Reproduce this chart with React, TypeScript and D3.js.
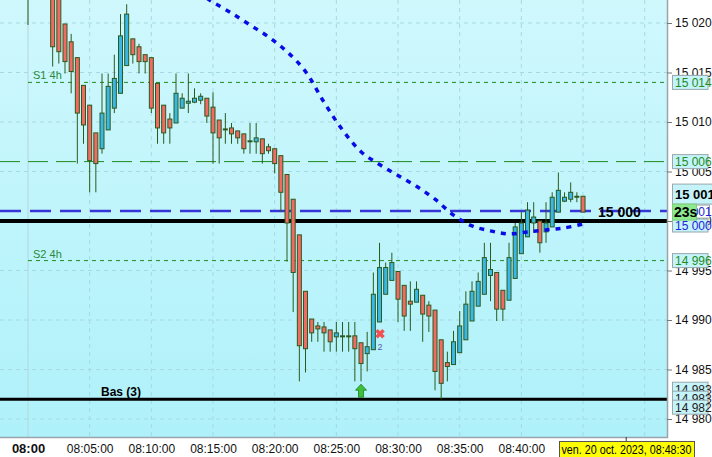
import React, { useEffect, useRef } from 'react'
import * as d3 from 'd3'

// 30 second candles starting 08:00:00
const opens = [
  15024.5, 15023.5, 15025.0, 15026.5, 15025.0, 15024.0, 15019.9, 15018.1, 15016.5, 15013.7,
  15011.7, 15008.9, 15007.3, 15009.2, 15011.4, 15012.9, 15015.7, 15018.4, 15017.6, 15016.8,
  15016.5, 15013.9, 15011.7, 15010.3, 15009.9, 15011.4, 15011.9, 15012.0, 15012.2, 15012.4,
  15011.5, 15010.2, 15009.3, 15009.4, 15009.1, 15008.8, 15008.1, 15008.0, 15008.3, 15007.5,
  15007.3, 15006.6, 15004.7, 15002.2, 14998.6, 14992.9, 14990.1, 14989.4, 14989.3, 14989.0,
  14988.3, 14988.4, 14988.4, 14988.4, 14987.7, 14986.6, 14987.0, 14989.8, 14992.6, 14994.0,
  14994.9, 14993.5, 14991.9, 14991.8, 14992.5, 14991.5, 14991.0, 14988.0, 14985.7, 14985.5,
  14986.7, 14988.0, 14989.9, 14991.4, 14992.6, 14994.5, 14994.8, 14993.0, 14992.0, 14994.2,
  14996.7, 14998.4, 14999.8, 15000.0, 14998.9, 14999.4, 15000.9, 15002.0, 15002.2, 15002.5,
  15002.5,
]
const closes = [
  15023.0, 15025.0, 15026.5, 15025.0, 15017.6, 15017.1, 15016.1, 15015.1, 15010.9, 15009.7,
  15006.1, 15005.8, 15010.9, 15013.6, 15014.4, 15018.7, 15020.9, 15016.8, 15016.1, 15016.1,
  15011.4, 15009.4, 15008.9, 15009.4, 15012.9, 15012.4, 15012.1, 15012.4, 15012.6, 15010.6,
  15008.9, 15008.4, 15009.2, 15008.8, 15008.4, 15007.3, 15008.1, 15008.4, 15006.8, 15007.1,
  15005.8, 15002.9, 14999.8, 14994.8, 14987.4, 14987.1, 14988.7, 14989.1, 14988.7, 14987.8,
  14988.7, 14988.4, 14988.4, 14987.1, 14985.6, 14987.3, 14992.6, 14995.3, 14995.3, 14995.8,
  14992.1, 14990.4, 14991.6, 14993.1, 14990.6, 14990.4, 14984.8, 14983.6, 14985.3, 14987.8,
  14989.4, 14991.6, 14992.9, 14993.9, 14996.3, 14995.1, 14991.1, 14991.1, 14996.3, 14999.4,
  14999.8, 15001.1, 15000.4, 14997.8, 14999.8, 15002.4, 15003.1, 15002.4, 15002.9, 15002.5,
  15000.9,
]
const highs = [
  15025.5, 15026.0, 15027.0, 15027.5, 15025.5, 15024.5, 15019.9, 15018.9, 15016.5, 15013.7,
  15011.7, 15008.9, 15014.9, 15014.9, 15016.8, 15020.9, 15021.9, 15018.4, 15017.9, 15016.8,
  15016.5, 15013.9, 15011.7, 15010.9, 15014.9, 15012.9, 15014.9, 15013.4, 15012.9, 15012.4,
  15013.0, 15010.2, 15010.9, 15009.9, 15009.1, 15008.8, 15009.9, 15009.9, 15008.3, 15007.8,
  15007.3, 15006.6, 15004.7, 15002.2, 14998.6, 14992.9, 14990.1, 14989.8, 14989.8, 14989.0,
  14989.8, 14989.8, 14989.8, 14989.8, 14987.7, 14988.8, 14994.8, 14997.8, 14995.8, 14996.8,
  14994.9, 14993.5, 14993.9, 14993.9, 14992.5, 14991.9, 14991.0, 14988.0, 14986.8, 14988.9,
  14990.9, 14992.9, 14993.9, 14994.8, 14997.8, 14997.8, 14994.8, 14993.0, 14997.8, 14999.8,
  15000.9, 15001.9, 15001.9, 15000.0, 15001.9, 15002.9, 15004.9, 15002.9, 15003.9, 15002.9,
  15002.5,
]
const lows = [
  15019.8, 15022.8, 15024.0, 15024.5, 15015.6, 15015.9, 15014.9, 15012.9, 15005.8, 15007.8,
  15002.9, 15002.9, 15006.8, 15009.2, 15010.9, 15012.9, 15015.7, 15015.9, 15014.9, 15014.9,
  15010.9, 15007.8, 15007.8, 15007.8, 15009.9, 15011.4, 15010.9, 15011.9, 15011.8, 15009.9,
  15005.8, 15005.8, 15007.8, 15007.8, 15007.8, 15006.8, 15006.8, 15006.8, 15005.8, 15006.8,
  15004.8, 15000.9, 14995.9, 14990.8, 14983.8, 14984.7, 14987.8, 14987.8, 14986.8, 14986.8,
  14986.8, 14986.8, 14986.8, 14983.8, 14983.8, 14984.8, 14987.0, 14989.8, 14992.6, 14994.0,
  14989.8, 14988.9, 14988.9, 14991.8, 14987.8, 14988.8, 14982.9, 14982.0, 14983.8, 14985.5,
  14986.7, 14988.0, 14989.9, 14991.4, 14992.6, 14991.9, 14989.9, 14989.9, 14992.0, 14994.2,
  14996.7, 14998.4, 14998.8, 14996.8, 14997.8, 14999.4, 15000.9, 15001.9, 15001.9, 15001.9,
  15000.9,
]

// moving average (candle index, price)
const maIndex = [29, 30, 33, 36, 39, 42, 45, 48, 51, 54, 57, 60, 63, 66, 69, 72, 75, 78, 81, 84, 87, 90]
const maValues = [
  15022.5, 15022.1, 15021.0, 15019.8, 15018.6, 15017.1, 15015.1, 15012.0, 15009.2, 15007.0,
  15005.7, 15004.6, 15003.5, 15002.2, 15000.6, 14999.5, 14999.0, 14998.7, 14998.9, 14999.1,
  14999.3, 14999.7,
]

const yTicks = [14980, 14985, 14990, 14995, 15000, 15005, 15010, 15015, 15020]
const xTicks = ['08:00', '08:05', '08:10', '08:15', '08:20', '08:25', '08:30', '08:35', '08:40', '08:45', '08:50']
const xLabels = ['08:00', '08:05:00', '08:10:00', '08:15:00', '08:20:00', '08:25:00', '08:30:00', '08:35:00', '08:40:00', '', '']

const levelS1 = 15014
const levelR = 15006
const levelLast = 15001
const levelRound = 15000
const levelS2 = 14996
const levelLow = 14982
const buyIndex = 54
const sellIndex = 57
const sellPrice = 14988.6

const W = 712
const H = 457
const plotR = 667
const plotB = 437
const font = '"Liberation Sans", Arial, sans-serif'

const day = (hm: string) => {
  const [h, m] = hm.split(':').map(Number)
  return new Date(2023, 9, 20, h, m, 0)
}
const fmt = (v: number) => {
  const r = Math.round(v)
  return `${Math.floor(r / 1000)} ${String(r % 1000).padStart(3, '0')}`
}

export default function App() {
  const ref = useRef<SVGSVGElement>(null)

  useEffect(() => {
    document.body.style.margin = '0'
    const svg = d3.select(ref.current)
    svg.selectAll('*').remove()

    const t0 = day('08:00')
    const tNow = new Date(2023, 9, 20, 8, 48, 30)
    const x = d3.scaleTime().domain([t0, tNow]).range([28, 626.2])
    const y = d3.scaleLinear().domain([14980, 15020]).range([419, 23])
    const cx = (i: number) => x(new Date(t0.getTime() + i * 30000))

    const defs = svg.append('defs')
    const grad = defs.append('linearGradient').attr('id', 'bg').attr('x1', 0).attr('y1', 0).attr('x2', 0).attr('y2', 1)
    grad.append('stop').attr('offset', '0%').attr('stop-color', '#cff8fd')
    grad.append('stop').attr('offset', '100%').attr('stop-color', '#aff1fa')
    defs.append('clipPath').attr('id', 'plot').append('rect').attr('width', plotR).attr('height', plotB)

    svg.append('rect').attr('width', W).attr('height', H).attr('fill', '#fff')
    svg.append('rect').attr('width', plotR).attr('height', plotB).attr('fill', 'url(#bg)')

    const g = svg.append('g').attr('clip-path', 'url(#plot)')

    // grid
    g.selectAll('.hg').data(yTicks).enter().append('line')
      .attr('x1', 0).attr('x2', plotR).attr('y1', (d) => y(d)).attr('y2', (d) => y(d))
      .attr('stroke', '#a6d9e2').attr('stroke-dasharray', '4,4')
    g.selectAll('.vg').data(xTicks).enter().append('line')
      .attr('x1', (d) => x(day(d))).attr('x2', (d) => x(day(d))).attr('y1', 0).attr('y2', plotB)
      .attr('stroke', (d, i) => (i === 0 ? '#b6d4dc' : '#a6d9e2'))
      .attr('stroke-dasharray', (d, i) => (i === 0 ? null : '4,4'))

    const hline = (v: number, x0: number, color: string, w: number, dash: string | null) =>
      g.append('line').attr('x1', x0).attr('x2', plotR).attr('y1', y(v)).attr('y2', y(v))
        .attr('stroke', color).attr('stroke-width', w).attr('stroke-dasharray', dash)

    hline(levelS1, 28, '#1f8a1f', 1, '4,4')
    hline(levelS2, 28, '#1f8a1f', 1, '4,4')
    hline(levelR, 0, '#1f8a1f', 1, '20,8')
    hline(levelLast, 0, '#3535d8', 2.5, '21,9')
    hline(levelRound, 0, '#000', 4, null)
    hline(levelLow, 0, '#000', 3, null)

    const lbl = (t: string, xx: number, yy: number, color: string, size: number, bold = false) =>
      g.append('text').attr('x', xx).attr('y', yy).attr('fill', color).attr('font-size', size)
        .attr('font-family', font).attr('font-weight', bold ? 'bold' : 'normal').text(t)

    lbl('S1 4h', 33, y(levelS1) - 3, '#2a8a3a', 11)
    lbl('S2 4h', 33, y(levelS2) - 3, '#2a8a3a', 11)
    lbl('Bas (3)', 101, y(levelLow) - 3, '#000', 12, true)

    // candles
    const idx = d3.range(opens.length)
    const cg = g.selectAll('.c').data(idx).enter().append('g')
    cg.append('line')
      .attr('x1', (i) => cx(i)).attr('x2', (i) => cx(i))
      .attr('y1', (i) => y(highs[i])).attr('y2', (i) => y(lows[i]))
      .attr('stroke', '#2c5a1c').attr('stroke-width', 1)
    cg.append('rect')
      .attr('x', (i) => cx(i) - 2)
      .attr('width', 4)
      .attr('y', (i) => y(Math.max(opens[i], closes[i])))
      .attr('height', (i) => Math.max(1, Math.abs(y(opens[i]) - y(closes[i]))))
      .attr('fill', (i) => (closes[i] >= opens[i] ? '#38b8e6' : '#f26a64'))
      .attr('stroke', '#2c5a1c').attr('stroke-width', 1)

    // moving average
    const line = d3.line<number>().x((d, k) => cx(maIndex[k])).y((d) => y(d)).curve(d3.curveCatmullRom)
    g.append('path').attr('d', line(maValues)).attr('fill', 'none')
      .attr('stroke', '#0a0ae6').attr('stroke-width', 3.5).attr('stroke-dasharray', '5,6')

    lbl('15 000', 598, y(levelRound) - 4, '#000', 14, true)

    // markers
    const bx = cx(buyIndex)
    const by = y(levelLow) - 2
    g.append('path')
      .attr('d', `M${bx},${by - 13} L${bx + 5.5},${by - 7} L${bx + 2.5},${by - 7} L${bx + 2.5},${by} L${bx - 2.5},${by} L${bx - 2.5},${by - 7} L${bx - 5.5},${by - 7} Z`)
      .attr('fill', '#3cc03c').attr('stroke', '#1e7a1e').attr('stroke-width', 0.8)
    const sx = cx(sellIndex) + 0.5
    const sy = y(sellPrice)
    g.append('path')
      .attr('d', `M${sx - 3.5},${sy - 3.5} L${sx + 3.5},${sy + 3.5} M${sx + 3.5},${sy - 3.5} L${sx - 3.5},${sy + 3.5}`)
      .attr('stroke', '#f05050').attr('stroke-width', 3.5)
    lbl('2', sx - 2.5, sy + 16, '#5a5aa0', 9)

    // border
    svg.append('path').attr('d', `M0,${plotB + 0.5} H${plotR + 0.5} V0`).attr('fill', 'none')
      .attr('stroke', '#9aa4ac').attr('stroke-width', 1.5)

    // right axis
    const ya = svg.append('g').attr('transform', `translate(${plotR},0)`)
      .call(d3.axisRight(y).tickValues(yTicks).tickFormat((d) => fmt(d as number)).tickSize(5).tickPadding(3))
    ya.select('.domain').remove()
    ya.selectAll('text').attr('font-size', 12).attr('font-family', font).attr('fill', '#111')
    ya.selectAll('line').attr('stroke', '#777')

    // bottom axis
    const xa = svg.append('g').attr('transform', `translate(0,${plotB})`)
      .call(d3.axisBottom(x).tickValues(xTicks.map(day)).tickFormat((d, i) => xLabels[i]).tickSize(0).tickPadding(7))
    xa.select('.domain').remove()
    xa.selectAll('text').attr('font-family', font).attr('fill', '#111')
      .attr('font-weight', (d, i) => (i === 0 ? 'bold' : 'normal'))
      .attr('font-size', (d, i) => (i === 0 ? 13 : 12))
    svg.append('line').attr('x1', x(tNow)).attr('x2', x(tNow)).attr('y1', plotB).attr('y2', plotB + 5).attr('stroke', '#333')

    // price tags on the axis
    const tag = (yy: number, h: number, w: number, t: string, color: string, fill: string, size: number, bold = false) => {
      svg.append('rect').attr('x', 672.5).attr('y', yy).attr('width', w).attr('height', h)
        .attr('fill', fill).attr('stroke', '#9aa8ae').attr('stroke-width', 1)
      svg.append('text').attr('x', 675).attr('y', yy + h / 2 + size * 0.36).attr('fill', color)
        .attr('font-size', size).attr('font-family', font).attr('font-weight', bold ? 'bold' : 'normal').text(t)
    }
    tag(y(levelS1) - 7, 14, 35.5, fmt(levelS1), '#1e8c1e', '#c4f3f9', 12)
    tag(y(levelR) - 7, 14, 35.5, fmt(levelR), '#1e8c1e', '#c4f3f9', 12)
    tag(y(levelS2) - 7, 14, 35.5, fmt(levelS2), '#1e8c1e', '#c4f3f9', 12)
    tag(y(levelLow) - 17, 14, 35.5, fmt(levelLow + 1), '#222', '#c4f3f9', 12)
    tag(y(levelLow) - 8, 14, 35.5, fmt(levelLow + 1), '#222', '#c4f3f9', 12)
    tag(y(levelLow) + 1, 14, 35.5, fmt(levelLow), '#222', '#c4f3f9', 12)
    tag(y(levelLast) - 27, 20, 42, fmt(levelLast), '#000', '#c4f3f9', 13, true)
    tag(y(levelLast) - 6, 13, 37, fmt(levelLast), '#2222dd', '#fff', 12)
    tag(y(levelRound) - 2, 13, 35.5, fmt(levelRound), '#2222dd', '#c4f3f9', 12)
    svg.append('rect').attr('x', 672.5).attr('y', y(levelLast) - 7).attr('width', 24).attr('height', 16)
      .attr('fill', '#8ee88e').attr('stroke', '#7ad07a')
    svg.append('text').attr('x', 674).attr('y', y(levelLast) + 6).attr('font-size', 14).attr('font-weight', 'bold')
      .attr('font-family', font).attr('fill', '#000').text('23s')

    // current time label
    svg.append('rect').attr('x', 559.5).attr('y', 441.5).attr('width', 135).attr('height', 16)
      .attr('fill', '#ffff00').attr('stroke', '#555')
    svg.append('text').attr('x', 561.5).attr('y', 454).attr('font-size', 12).attr('font-family', font)
      .attr('textLength', 130).attr('lengthAdjust', 'spacingAndGlyphs')
      .attr('fill', '#000').text('ven. 20 oct. 2023, 08:48:30')
  }, [])

  return <svg ref={ref} width={W} height={H} style={{ position: 'absolute', left: 0, top: 0 }} />
}
